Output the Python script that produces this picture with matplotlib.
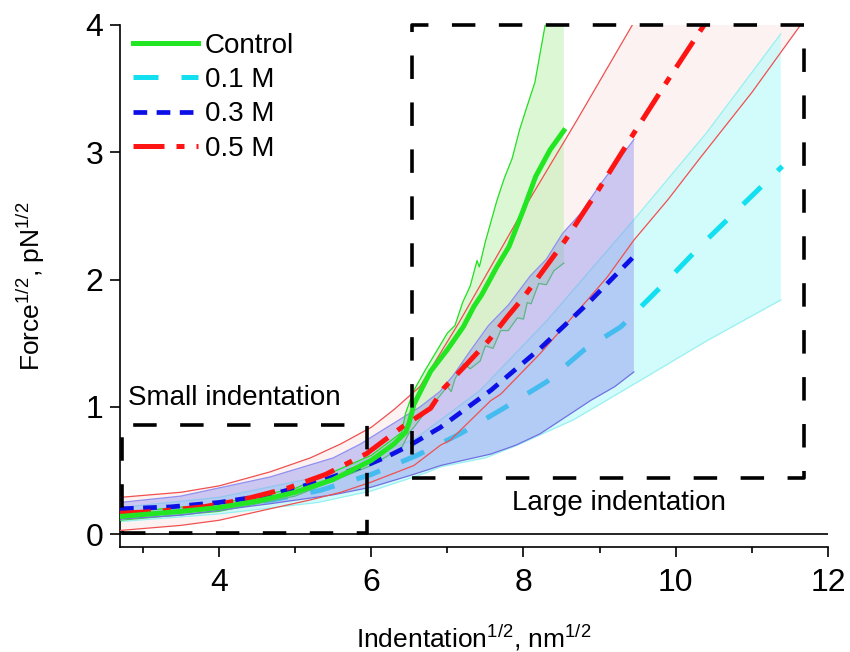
import matplotlib
matplotlib.use("Agg")
import matplotlib.pyplot as plt
import numpy as np

plt.rcParams["font.family"] = ["Liberation Sans", "DejaVu Sans"]
plt.rcParams["mathtext.fontset"] = "custom"
plt.rcParams["mathtext.rm"] = "Liberation Sans"
plt.rcParams["mathtext.it"] = "Liberation Sans:italic"

# Control
ctrl_x = [2.7, 3.5, 4.0, 4.5, 5.0, 5.5, 6.0, 6.3, 6.45, 6.5, 6.56, 6.78, 7.0,
          7.21, 7.35, 7.45, 7.65, 7.81, 8.0, 8.16, 8.35, 8.53]
ctrl_y = [0.14, 0.18, 0.21, 0.26, 0.33, 0.43, 0.58, 0.71, 0.80, 0.88, 1.02,
          1.28, 1.45, 1.63, 1.79, 1.88, 2.10, 2.26, 2.55, 2.81, 3.02, 3.17]
ctrl_hi_x = [2.7, 4.0, 5.0, 6.0, 6.4, 6.45, 6.56, 6.7, 6.8, 7.0, 7.1, 7.2,
             7.3, 7.39, 7.42, 7.5, 7.65, 7.75, 7.85, 7.95, 8.03, 8.15, 8.3, 8.53]
ctrl_hi_y = [0.17, 0.24, 0.36, 0.62, 0.80, 0.95, 1.13, 1.28, 1.38, 1.58, 1.64,
             1.82, 1.95, 2.15, 2.10, 2.30, 2.62, 2.80, 2.95, 3.18, 3.33, 3.55,
             4.05, 4.60]
ctrl_lo_x = [2.7, 4.0, 5.0, 6.0, 6.4, 6.5, 6.56, 6.7, 6.85, 7.0, 7.05, 7.1,
             7.21, 7.3, 7.43, 7.5, 7.6, 7.7, 7.8, 7.92, 8.0, 8.05, 8.1, 8.2,
             8.3, 8.4, 8.53]
ctrl_lo_y = [0.11, 0.18, 0.30, 0.54, 0.68, 0.80, 0.84, 0.95, 1.05, 1.16, 1.12,
             1.22, 1.34, 1.30, 1.36, 1.48, 1.46, 1.60, 1.60, 1.70, 1.69, 1.82,
             1.81, 1.97, 1.96, 2.07, 2.13]

# 0.1 M
c1_x = [2.7, 3.3, 4.0, 4.7, 5.33, 6.0, 6.6, 7.17, 7.74, 8.31, 8.8, 9.28,
        9.9, 10.35, 10.9, 11.4]
c1_y = [0.14, 0.17, 0.21, 0.27, 0.345, 0.47, 0.62, 0.79, 0.99, 1.20, 1.45,
        1.63, 2.0, 2.28, 2.6, 2.89]
c1_hi_x = [2.7, 4.0, 5.3, 6.0, 6.6, 7.43, 8.31, 9.45, 10.4, 11.38]
c1_hi_y = [0.21, 0.29, 0.45, 0.60, 0.76, 1.13, 1.68, 2.47, 3.15, 3.93]
c1_lo_x = [2.7, 4.0, 5.3, 6.0, 6.71, 6.91, 7.5, 7.92, 8.66, 9.54, 10.41, 11.38]
c1_lo_y = [0.10, 0.16, 0.25, 0.34, 0.48, 0.53, 0.60, 0.70, 0.90, 1.21, 1.52,
           1.84]

# 0.3 M
c3_x = [2.7, 3.36, 4.0, 4.67, 5.3, 5.99, 6.21, 6.51, 6.91, 7.57, 8.22, 8.84,
        9.43]
c3_y = [0.20, 0.215, 0.25, 0.31, 0.41, 0.555, 0.61, 0.70, 0.84, 1.13, 1.46,
        1.81, 2.17]
c3_hi_x = [2.7, 3.5, 4.67, 5.5, 5.86, 6.1, 6.64, 6.9, 7.08, 7.3, 7.54, 7.8,
           8.09, 8.3, 8.51, 8.75, 9.0, 9.2, 9.45]
c3_hi_y = [0.25, 0.30, 0.45, 0.60, 0.71, 0.80, 1.00, 1.12, 1.25, 1.44, 1.64,
           1.80, 2.03, 2.16, 2.36, 2.52, 2.74, 2.90, 3.10]
c3_lo_x = [2.7, 3.5, 4.67, 5.5, 6.0, 6.5, 6.71, 6.91, 7.2, 7.57, 7.9, 8.22,
           8.5, 8.88, 9.2, 9.45]
c3_lo_y = [0.12, 0.15, 0.24, 0.31, 0.37, 0.46, 0.50, 0.54, 0.58, 0.63, 0.70,
           0.79, 0.90, 1.05, 1.16, 1.275]

# 0.5 M
c5_x = [2.7, 3.2, 3.79, 4.3, 4.89, 5.4, 5.94, 6.4, 6.78, 6.95, 7.26, 7.54,
        7.79, 8.0, 8.55, 9.0, 9.45, 9.9, 10.45]
c5_y = [0.165, 0.18, 0.215, 0.27, 0.36, 0.47, 0.634, 0.84, 0.99, 1.145, 1.34,
        1.52, 1.71, 1.86, 2.31, 2.72, 3.15, 3.57, 4.07]
c5_hi_x = [2.7, 3.5, 4.0, 4.67, 5.2, 5.6, 6.0, 6.3, 6.64, 7.15, 8.0, 8.7,
           9.43, 9.6]
c5_hi_y = [0.29, 0.33, 0.38, 0.49, 0.60, 0.71, 0.84, 0.98, 1.16, 1.66, 2.55,
           3.25, 4.0, 4.18]
c5_lo_x = [2.7, 3.5, 4.0, 4.67, 5.2, 5.6, 6.0, 6.56, 6.91, 7.04, 7.57, 7.7,
           8.22, 8.84, 9.1, 9.45, 9.9, 10.3, 11.0, 11.64]
c5_lo_y = [0.03, 0.07, 0.11, 0.20, 0.27, 0.33, 0.41, 0.54, 0.70, 0.74, 1.05,
           1.10, 1.42, 1.84, 2.02, 2.31, 2.63, 2.94, 3.47, 4.0]

# Boxes: (x0, x1, y0, y1)
small_box = (2.72, 5.94, 0.01, 0.855)
large_box = (6.54, 11.69, 0.443, 4.0)


def band(ax, xh, yh, xl, yl, **kw):
    px = np.concatenate([xh, xl[::-1]])
    py = np.concatenate([yh, yl[::-1]])
    ax.fill(px, py, lw=0, **kw)


def box(ax, b):
    x0, x1, y0, y1 = b
    ax.plot([x0, x1, x1, x0, x0], [y0, y0, y1, y1, y0], color="black",
            lw=2.6, ls=(0, (6.5, 6.5)), clip_on=False, zorder=8)


fig = plt.figure(figsize=(8.5, 6.52), dpi=100)
ax = fig.add_axes([0.1412, 0.161, 0.8329, 0.8007])

# shaded bands
band(ax, np.array(c5_hi_x), np.array(c5_hi_y), np.array(c5_lo_x),
     np.array(c5_lo_y), color="#fdf2f2", zorder=1)
band(ax, np.array(c1_hi_x), np.array(c1_hi_y), np.array(c1_lo_x),
     np.array(c1_lo_y), color="#c0fafa", alpha=0.7, zorder=2)
ax.plot(c1_hi_x, c1_hi_y, color="#98f0f0", lw=0.9, zorder=2.1)
ax.plot(c1_lo_x, c1_lo_y, color="#98f0f0", lw=0.9, zorder=2.1)
l1, = ax.plot(c1_x, c1_y, color="#12e0f0", lw=3.6, ls=(0, (5, 4.6)),
              zorder=2.2, label="0.1 M")
band(ax, np.array(ctrl_hi_x), np.array(ctrl_hi_y), np.array(ctrl_lo_x),
     np.array(ctrl_lo_y), color="#b8f0a8", alpha=0.5, zorder=2.5)
ax.plot(ctrl_lo_x, ctrl_lo_y, color="#40d040", lw=0.9, zorder=2.6)
band(ax, np.array(c3_hi_x), np.array(c3_hi_y), np.array(c3_lo_x),
     np.array(c3_lo_y), color="#8a8cee", alpha=0.42, zorder=3)
ax.plot(c3_hi_x, c3_hi_y, color="#9090f0", lw=0.9, zorder=3.1)
ax.plot(c3_lo_x, c3_lo_y, color="#7070e0", lw=0.9, zorder=3.1)
ax.plot(ctrl_hi_x, ctrl_hi_y, color="#20e020", lw=0.9, zorder=3.2)
ax.plot(c5_hi_x, c5_hi_y, color="#f05050", lw=0.9, zorder=3.3)
ax.plot(c5_lo_x, c5_lo_y, color="#f05050", lw=0.9, zorder=3.3)

# mean curves
l3, = ax.plot(c3_x, c3_y, color="#0c10e6", lw=3.4, ls=(0, (2.9, 2.0)),
              zorder=4, label="0.3 M")
l5, = ax.plot(c5_x, c5_y, color="#ff1414", lw=3.6,
              ls=(0, (6.2, 2.4, 1.6, 2.4)), zorder=5, label="0.5 M")
l0, = ax.plot(ctrl_x, ctrl_y, color="#22e622", lw=3.6, zorder=6,
              label="Control")

ax.axhline(0, color="black", lw=1.2, zorder=7)
box(ax, small_box)
box(ax, large_box)

ax.text(2.8, 1.07, "Small indentation", fontsize=20, va="center", ha="left")
ax.text(9.25, 0.246, "Large indentation", fontsize=20, va="center",
        ha="center")

ax.set_xlim(2.7, 12)
ax.set_ylim(-0.1, 4)
ax.set_xticks([4, 6, 8, 10, 12])
ax.set_xticks([3, 5, 7, 9, 11], minor=True)
ax.set_yticks([0, 1, 2, 3, 4])
for s in ("top", "right"):
    ax.spines[s].set_visible(False)
for s in ("left", "bottom"):
    ax.spines[s].set_linewidth(1.2)
ax.tick_params(which="major", direction="out", length=7, width=1.2,
               labelsize=23, pad=5)
ax.tick_params(axis="x", which="major", pad=8)
ax.tick_params(which="minor", direction="out", length=4, width=1.2)

ax.set_xlabel("Indentation$^{1/2}$, nm$^{1/2}$", fontsize=19, labelpad=18)
ax.set_ylabel("Force$^{1/2}$, pN$^{1/2}$", fontsize=19, labelpad=28)

ax.legend(handles=[l0, l1, l3, l5], loc="upper left",
          bbox_to_anchor=(0.018, 0.985), frameon=False, fontsize=20,
          handlelength=2.34, handletextpad=0.25, labelspacing=0.3,
          borderpad=0, borderaxespad=0)

fig.savefig("out.png", dpi=100)
